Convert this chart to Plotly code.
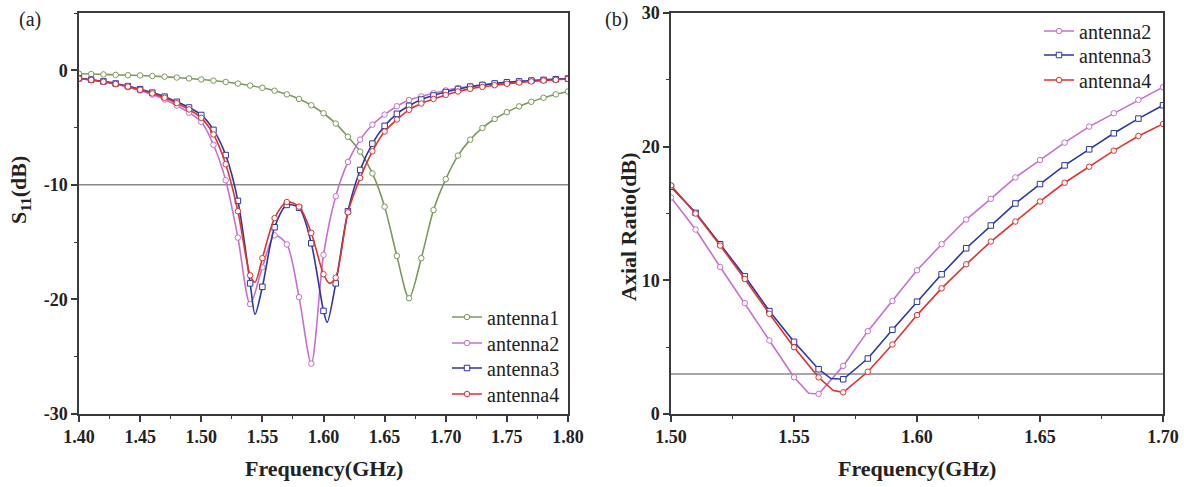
import plotly.graph_objects as go

# ---------------- Panel (a): S11 ----------------
freq_a1 = [1.40, 1.41, 1.42, 1.43, 1.44, 1.45, 1.46, 1.47, 1.48, 1.49, 1.50,
           1.51, 1.52, 1.53, 1.54, 1.55, 1.56, 1.57, 1.58, 1.59, 1.60,
           1.61, 1.62, 1.63, 1.64, 1.65, 1.66, 1.67, 1.68, 1.69, 1.70,
           1.71, 1.72, 1.73, 1.74, 1.75, 1.76, 1.77, 1.78, 1.79, 1.80]
s11_ant1 = [-0.30, -0.33, -0.36, -0.40, -0.43, -0.45, -0.50, -0.56, -0.63, -0.71, -0.80,
            -0.90, -1.02, -1.16, -1.33, -1.53, -1.78, -2.10, -2.50, -3.05, -3.75,
            -4.65, -5.80, -7.10, -9.00, -11.90, -16.20, -19.90, -16.40, -12.20, -9.50,
            -7.45, -6.05, -5.03, -4.25, -3.65, -3.15, -2.75, -2.40, -2.10, -1.85]

freq_a2 = [1.40, 1.41, 1.42, 1.43, 1.44, 1.45, 1.46, 1.47, 1.48, 1.49, 1.50,
           1.51, 1.52, 1.53, 1.54, 1.55, 1.56, 1.57, 1.58, 1.59, 1.60,
           1.61, 1.62, 1.63, 1.64, 1.65, 1.66, 1.67, 1.68, 1.69, 1.70,
           1.71, 1.72, 1.73, 1.74, 1.75, 1.76, 1.77, 1.78, 1.79, 1.80]
s11_ant2 = [-0.72, -0.86, -1.02, -1.22, -1.47, -1.77, -2.12, -2.55, -3.08, -3.70, -4.50,
            -6.50, -9.60, -14.60, -20.40, -17.20, -14.40, -15.20, -19.80, -25.60, -16.10,
            -11.00, -8.00, -6.05, -4.75, -3.87, -3.14, -2.60, -2.28, -2.00, -1.76,
            -1.56, -1.40, -1.27, -1.15, -1.05, -0.97, -0.90, -0.83, -0.77, -0.72]

freq_a3 = [1.40, 1.41, 1.42, 1.43, 1.44, 1.45, 1.46, 1.47, 1.48, 1.49, 1.50,
           1.51, 1.52, 1.53, 1.54, 1.544, 1.55, 1.56, 1.57, 1.58, 1.59, 1.60, 1.603,
           1.61, 1.62, 1.63, 1.64, 1.65, 1.66, 1.67, 1.68, 1.69, 1.70,
           1.71, 1.72, 1.73, 1.74, 1.75, 1.76, 1.77, 1.78, 1.79, 1.80]
s11_ant3 = [-0.70, -0.82, -0.97, -1.15, -1.38, -1.65, -1.95, -2.30, -2.75, -3.25, -3.90,
            -5.20, -7.40, -11.40, -18.60, -21.30, -18.90, -13.70, -11.75, -12.00, -15.10, -21.00, -22.00,
            -18.60, -12.30, -8.70, -6.40, -4.85, -3.80, -3.10, -2.55, -2.20, -1.90,
            -1.63, -1.43, -1.28, -1.15, -1.05, -0.97, -0.90, -0.84, -0.78, -0.72]

freq_a4 = [1.40, 1.41, 1.42, 1.43, 1.44, 1.45, 1.46, 1.47, 1.48, 1.49, 1.50,
           1.51, 1.52, 1.53, 1.54, 1.544, 1.55, 1.56, 1.57, 1.58, 1.59, 1.60, 1.605,
           1.61, 1.62, 1.63, 1.64, 1.65, 1.66, 1.67, 1.68, 1.69, 1.70,
           1.71, 1.72, 1.73, 1.74, 1.75, 1.76, 1.77, 1.78, 1.79, 1.80]
s11_ant4 = [-0.72, -0.85, -1.00, -1.19, -1.42, -1.70, -2.02, -2.40, -2.87, -3.42, -4.15,
            -5.60, -8.20, -12.30, -17.90, -18.50, -16.40, -12.90, -11.50, -11.90, -14.20, -17.80, -18.60,
            -18.10, -12.40, -9.40, -7.07, -5.35, -4.30, -3.45, -2.90, -2.50, -2.15,
            -1.85, -1.62, -1.45, -1.30, -1.18, -1.07, -0.98, -0.90, -0.83, -0.76]

s11_threshold = -10

# ---------------- Panel (b): Axial ratio ----------------
freq_b2 = [1.50, 1.51, 1.52, 1.53, 1.54, 1.55, 1.556, 1.56, 1.57, 1.58, 1.59, 1.60,
           1.61, 1.62, 1.63, 1.64, 1.65, 1.66, 1.67, 1.68, 1.69, 1.70]
ar_ant2 = [16.2, 13.8, 11.0, 8.3, 5.5, 2.75, 1.55, 1.5, 3.6, 6.2, 8.45, 10.75,
           12.7, 14.55, 16.1, 17.7, 19.0, 20.3, 21.5, 22.5, 23.5, 24.45]

freq_b3 = [1.50, 1.51, 1.52, 1.53, 1.54, 1.55, 1.56, 1.565, 1.57, 1.58, 1.59, 1.60,
           1.61, 1.62, 1.63, 1.64, 1.65, 1.66, 1.67, 1.68, 1.69, 1.70]
ar_ant3 = [17.0, 15.05, 12.7, 10.3, 7.7, 5.4, 3.35, 2.65, 2.6, 4.15, 6.3, 8.4,
           10.45, 12.4, 14.1, 15.75, 17.2, 18.6, 19.8, 21.0, 22.1, 23.1]

freq_b4 = [1.50, 1.51, 1.52, 1.53, 1.54, 1.55, 1.56, 1.566, 1.57, 1.58, 1.59, 1.60,
           1.61, 1.62, 1.63, 1.64, 1.65, 1.66, 1.67, 1.68, 1.69, 1.70]
ar_ant4 = [17.1, 15.0, 12.6, 10.1, 7.5, 5.0, 2.74, 1.75, 1.62, 3.16, 5.2, 7.4,
           9.4, 11.2, 12.9, 14.4, 15.9, 17.3, 18.5, 19.7, 20.8, 21.7]

ar_threshold = 3

x_ticks_a = [1.40, 1.45, 1.50, 1.55, 1.60, 1.65, 1.70, 1.75, 1.80]
x_ticks_b = [1.50, 1.55, 1.60, 1.65, 1.70]
y_ticks_a = [-30, -20, -10, 0]
y_ticktext_a = ["-30", "-20", "-10", "0"]
y_ticks_b = [0, 10, 20, 30]

# ---------------- Styling ----------------
FONT = "Liberation Serif, Times New Roman, serif"
W, H = 1184, 487
C_GREEN = "#7b9a5c"
C_PINK = "#c76fcc"
C_BLUE = "#2a37a6"
C_RED = "#e2322e"
AXC = "#3a3a3a"

# legend rows (pixel centres) and text-start positions
LEG_A_X, LEG_A_ROWS = 447, [317, 343, 368, 394]
LEG_B_X, LEG_B_ROWS = 1039, [31, 55, 80]

fig = go.Figure()
legend_layouts = {}
legfont = dict(family=FONT, size=20, color="#222")


def on_grid(f):
    return abs(f * 100 - round(f * 100)) < 1e-6


def add_series(x, y, color, symbol, name, xa, ya, legend_id, legx, legy, shape):
    fig.add_trace(go.Scatter(x=x, y=y, mode="lines", xaxis=xa, yaxis=ya,
                             line=dict(color=color, width=1.6, shape=shape, smoothing=0.8),
                             showlegend=False, hoverinfo="skip"))
    mx = [f for f in x if on_grid(f)]
    my = [v for f, v in zip(x, y) if on_grid(f)]
    mk = dict(symbol=symbol, size=5.5, color="white", line=dict(color=color, width=1))
    fig.add_trace(go.Scatter(x=mx, y=my, mode="markers", xaxis=xa, yaxis=ya,
                             marker=mk, showlegend=False, hoverinfo="skip"))
    fig.add_trace(go.Scatter(x=[None], y=[None], mode="lines+markers", name=name,
                             xaxis=xa, yaxis=ya, legend=legend_id,
                             line=dict(color=color, width=1.6), marker=mk))
    legend_layouts[legend_id] = dict(x=legx / W, y=1 - legy / H, xanchor="left", yanchor="middle",
                                     bgcolor="rgba(0,0,0,0)", font=legfont)


add_series(freq_a1, s11_ant1, C_GREEN, "circle", "antenna1", "x", "y", "legend", LEG_A_X, LEG_A_ROWS[0], "spline")
add_series(freq_a2, s11_ant2, C_PINK, "circle", "antenna2", "x", "y", "legend2", LEG_A_X, LEG_A_ROWS[1], "spline")
add_series(freq_a3, s11_ant3, C_BLUE, "square", "antenna3", "x", "y", "legend3", LEG_A_X, LEG_A_ROWS[2], "spline")
add_series(freq_a4, s11_ant4, C_RED, "circle", "antenna4", "x", "y", "legend4", LEG_A_X, LEG_A_ROWS[3], "spline")

add_series(freq_b2, ar_ant2, C_PINK, "circle", "antenna2", "x2", "y2", "legend5", LEG_B_X, LEG_B_ROWS[0], "linear")
add_series(freq_b3, ar_ant3, C_BLUE, "square", "antenna3", "x2", "y2", "legend6", LEG_B_X, LEG_B_ROWS[1], "linear")
add_series(freq_b4, ar_ant4, C_RED, "circle", "antenna4", "x2", "y2", "legend7", LEG_B_X, LEG_B_ROWS[2], "linear")

# threshold lines
fig.add_shape(type="line", xref="x domain", yref="y", x0=0, x1=1, y0=s11_threshold, y1=s11_threshold,
              line=dict(color="#8a8a8a", width=1.5), layer="below")
fig.add_shape(type="line", xref="x2 domain", yref="y2", x0=0, x1=1, y0=ar_threshold, y1=ar_threshold,
              line=dict(color="#8a8a8a", width=1.5), layer="below")

tickfont = dict(family=FONT, size=18, color="#222", weight="bold")


def axis_common(**kw):
    d = dict(showline=True, linecolor=AXC, linewidth=1.5, mirror=True, showgrid=False,
             zeroline=False, ticks="outside", ticklen=6, tickwidth=1.5, tickcolor=AXC,
             tickfont=tickfont, automargin=False)
    d.update(kw)
    return d


ydom = [1 - 414 / H, 1 - 13 / H]
fig.update_layout(
    width=W, height=H, margin=dict(l=0, r=0, t=0, b=0),
    paper_bgcolor="white", plot_bgcolor="white",
    font=dict(family=FONT, color="#222"),
    xaxis=axis_common(domain=[79 / W, 568 / W], range=[1.40, 1.80], anchor="y",
                      tickvals=x_ticks_a, tickformat=".2f",
                      minor=dict(dtick=0.025, tick0=1.40, ticks="outside", ticklen=3, tickwidth=1.2, tickcolor=AXC)),
    yaxis=axis_common(domain=ydom, range=[-30, 5], anchor="x",
                      tickvals=y_ticks_a, ticktext=y_ticktext_a,
                      minor=dict(dtick=5, tick0=0, ticks="outside", ticklen=3, tickwidth=1.2, tickcolor=AXC)),
    xaxis2=axis_common(domain=[671 / W, 1163 / W], range=[1.50, 1.70], anchor="y2",
                       tickvals=x_ticks_b, tickformat=".2f",
                       minor=dict(dtick=0.025, tick0=1.50, ticks="outside", ticklen=3, tickwidth=1.2, tickcolor=AXC)),
    yaxis2=axis_common(domain=ydom, range=[0, 30], anchor="x2", tickvals=y_ticks_b,
                       minor=dict(dtick=5, tick0=0, ticks="outside", ticklen=3, tickwidth=1.2, tickcolor=AXC)),
    **legend_layouts,
)

titlefont = dict(family=FONT, size=22, color="#222", weight="bold")
ann = [
    dict(text="(a)", x=30 / W, y=1 - 20 / H, font=dict(family=FONT, size=20, color="#222")),
    dict(text="(b)", x=616 / W, y=1 - 20 / H, font=dict(family=FONT, size=20, color="#222")),
    dict(text="Frequency(GHz)", x=324 / W, y=1 - 468 / H, font=titlefont),
    dict(text="Frequency(GHz)", x=917 / W, y=1 - 468 / H, font=titlefont),
    dict(text="S<sub>11</sub>(dB)", x=20 / W, y=1 - 190 / H, font=titlefont, textangle=-90),
    dict(text="Axial Ratio(dB)", x=628 / W, y=1 - 227 / H, font=titlefont, textangle=-90),
]
for a in ann:
    fig.add_annotation(xref="paper", yref="paper", xanchor="center", yanchor="middle",
                       showarrow=False, **a)

fig.write_html("out.html")
